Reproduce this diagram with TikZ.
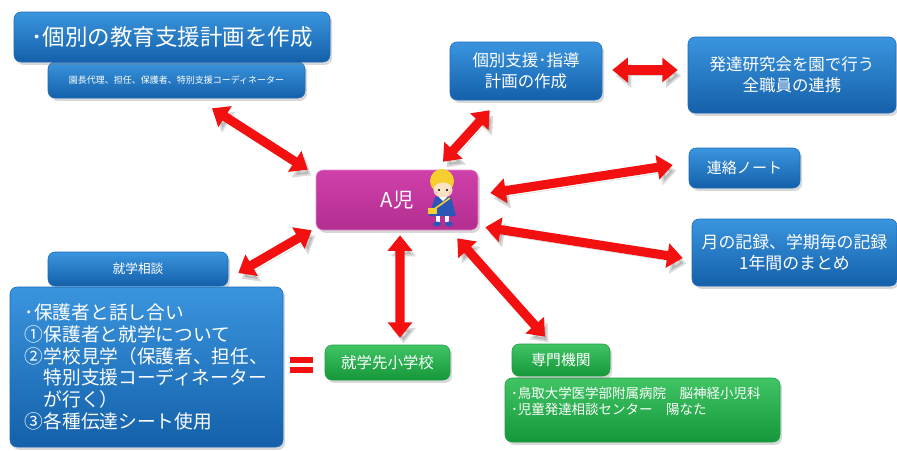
\documentclass[tikz,border=0pt]{standalone}
\usepackage{fontspec}
\setmainfont{Noto Sans CJK JP}
\usetikzlibrary{arrows.meta,calc,positioning,shadows}
\definecolor{boxbluetop}{HTML}{3A95DE}
\definecolor{boxbluebot}{HTML}{1460AA}
\definecolor{boxblueedge}{HTML}{1A6AB8}
\definecolor{boxgreentop}{HTML}{40C464}
\definecolor{boxgreenbot}{HTML}{15973A}
\definecolor{boxgreenedge}{HTML}{1E9E44}
\definecolor{boxpinktop}{HTML}{D040AA}
\definecolor{boxpinkbot}{HTML}{B22E90}
\definecolor{arrowred}{HTML}{F21010}
\definecolor{hairyellow}{HTML}{F6CF2E}
\definecolor{skin}{HTML}{FDE3C6}
\definecolor{smockblue}{HTML}{2B56B8}
\tikzset{
  boxwh/.style 2 args={minimum width=#1*0.025cm, minimum height=#2*0.025cm},
  basebox/.style={rectangle, rounded corners=5pt, inner sep=2pt, text=white,
    align=center, line width=0.4pt,
    drop shadow={opacity=0.3, shadow xshift=1.5pt, shadow yshift=-2pt}},
  bluebox/.style={basebox, top color=boxbluetop, bottom color=boxbluebot, draw=boxblueedge},
  greenbox/.style={basebox, top color=boxgreentop, bottom color=boxgreenbot, draw=boxgreenedge},
  pinkbox/.style={basebox, top color=boxpinktop, bottom color=boxpinkbot, draw=boxpinktop!60},
  dblarrow/.style={draw=arrowred, line width=6.5pt,
    {Triangle[width=17pt,length=11pt]}-{Triangle[width=17pt,length=11pt]},
    preaction={draw=black, opacity=0.15, transform canvas={xshift=2.5pt,yshift=-4pt}}},
}

\begin{document}
\begin{tikzpicture}[x=0.025cm, y=-0.025cm]
  \useasboundingbox (0,0) rectangle (897,450);
  \fill[white] (0,0) rectangle (897,450);
  % Planning boxes, top row
  \node[bluebox, boxwh={257}{36}, font=\fontsize{6.4}{8}\selectfont] (planmembers) at (176.5,80)
    {園長代理、担任、保護者、特別支援コーディネーター};
  \node[bluebox, boxwh={316}{50}, font=\fontsize{16}{19}\selectfont] (plan) at (172,37)
    {･個別の教育支援計画を作成};
  \node[bluebox, boxwh={152}{58}, font=\fontsize{11.7}{15}\selectfont] (guide) at (526,71)
    {個別支援･指導\\計画の作成};
  \node[bluebox, boxwh={208}{76}, font=\fontsize{11.7}{15}\selectfont] (study) at (792,75)
    {発達研究会を園で行う\\全職員の連携};
  % Records on the right
  \node[bluebox, boxwh={111}{40}, font=\fontsize{10.7}{13}\selectfont] (note) at (744.5,168)
    {連絡ノート};
  \node[bluebox, boxwh={205}{67}, font=\fontsize{12}{15}\selectfont] (record) at (794.5,252.5)
    {月の記録、学期毎の記録\\1年間のまとめ};
  % The child
  \node[pinkbox, boxwh={162}{60}, font=\fontsize{14.5}{17}\selectfont] (child) at (397,200)
    {A児};
  % School consultation, left
  \node[bluebox, boxwh={180}{34}, font=\fontsize{9}{11}\selectfont] (consult) at (138,269)
    {就学相談};
  \node[bluebox, boxwh={273}{160}, align=left, font=\fontsize{13.3}{15.4}\selectfont] (consultbody) at (146.5,367)
    {･保護者と話し合い\\①保護者と就学について\\②学校見学（保護者、担任、\\
     \hspace*{1em}特別支援コーディネーター\\\hspace*{1em}が行く）\\③各種伝達シート使用};
  % Schools and specialists, bottom
  \node[greenbox, boxwh={125}{35}, font=\fontsize{11}{13}\selectfont] (school) at (387.5,362.5)
    {就学先小学校};
  \node[greenbox, boxwh={275}{64}] (expertbody) at (642.5,410) {};
  \node[greenbox, boxwh={98}{32}, font=\fontsize{10.5}{13}\selectfont] (expert) at (561,360)
    {専門機関};
  \node[anchor=north west, inner sep=0pt, align=left, text=white, font=\fontsize{9.6}{11.4}\selectfont]
    (experttext) at ($(expertbody.north west)+(6,9)$)
    {･鳥取大学医学部附属病院　脳神経小児科\\･児童発達相談センター　陽なた};
  % Equal sign
  \fill[arrowred] (290,357) rectangle (313,363);
  \fill[arrowred] (290,367) rectangle (313,373);
  % Little kid in a smock
  \fill[hairyellow] (442,181) circle (12);
  \fill[skin] (443,190) ellipse (9.5 and 7.5);
  \fill[hairyellow] (431,183) .. controls (436,176) and (448,176) .. (453,184) -- (453,178) -- (431,178) -- cycle;
  \fill[black] (439,190) circle (1.1);
  \fill[black] (447,190) circle (1.1);
  \fill[pink] (436,193) circle (1.8);
  \fill[pink] (450,193) circle (1.8);
  \fill[smockblue] (435,197) -- (451,197) -- (456,216) -- (429,216) -- cycle;
  \fill[white] (439,197) -- (447,197) -- (443,201) -- cycle;
  \draw[hairyellow, line width=1.2pt] (450,198) -- (433,210);
  \fill[hairyellow] (428,208) rectangle (437,214);
  \fill[white] (436,216) rectangle (440,222);
  \fill[white] (445,216) rectangle (449,222);
  \fill[smockblue] (437,224) ellipse (4 and 2.5);
  \fill[smockblue] (449,224) ellipse (4 and 2.5);
  % Arrows to and from the child
  \draw[dblarrow] ($(planmembers.south)+(35.5,10)$) -- ($(child.north west)+(-8,0)$);
  \draw[dblarrow] ($(child.north)+(46,-8)$) -- ($(guide.south west)+(40,10)$);
  \draw[dblarrow] ($(guide.east)+(10,-1)$) -- ($(study.west)+(-10,-5)$);
  \draw[dblarrow] ($(child.east)+(12,-7)$) -- ($(note.west)+(-16,-3)$);
  \draw[dblarrow] ($(child.south east)+(7,-3)$) -- ($(record.west)+(-9,5.5)$);
  \draw[dblarrow] ($(consult.east)+(10,4)$) -- ($(child.south west)+(-4,0)$);
  \draw[dblarrow] ($(child.south)+(3,5)$) -- ($(school.north)+(12.5,-7)$);
  \draw[dblarrow] ($(child.south east)+(-21,8)$) -- ($(expert.north)+(-16,-7)$);
\end{tikzpicture}
\end{document}
